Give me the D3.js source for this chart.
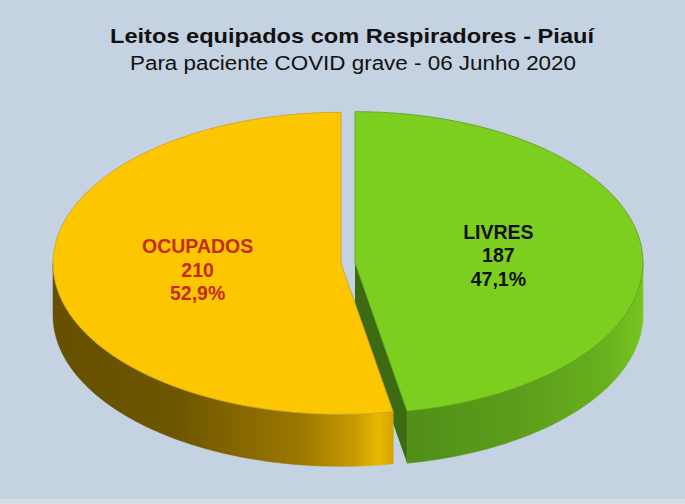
<!DOCTYPE html>
<html>
<head>
  <meta charset="utf-8">
  <title>Leitos equipados com Respiradores - Piauí</title>
  <style>
    html, body { margin: 0; padding: 0; background: #c5d2e2; }
    svg { display: block; }
  </style>
  <script src="https://d3js.org/d3.v7.min.js"></script>
</head>
<body>
  <div id="container"></div>
  <script>
    // data
    const categories = ["LIVRES", "OCUPADOS"];
    const values = [187, 210];
    const title = "Leitos equipados com Respiradores - Piauí";
    const subtitle = "Para paciente COVID grave - 06 Junho 2020";

    const width = 685, height = 504;
    const cx = 348, cy = 263, rx = 288, ry = 151, depth = 52, explode = 7;

    const topColor = ["#7ccf1e", "#fcc700"];
    const edgeColor = ["#5d9d1c", "#c9a030"];
    const faceColor = ["#3d6b12", "#7a6000"];
    const labelColor = ["#111111", "#c42a14"];

    const svg = d3.select("#container")
      .append("svg")
      .attr("width", width)
      .attr("height", height);

    svg.append("rect")
      .attr("width", width).attr("height", height)
      .attr("fill", "#c5d2e2");
    svg.append("rect")
      .attr("y", height - 5).attr("width", width).attr("height", 5)
      .attr("fill", "#d8dde3");

    // gradients for the sides
    const defs = svg.append("defs");
    const gY = defs.append("linearGradient").attr("id", "sideY")
      .attr("gradientUnits", "userSpaceOnUse")
      .attr("x1", cx - rx - explode).attr("x2", cx + 55).attr("y1", 0).attr("y2", 0);
    [["0", "#665000"], ["0.35", "#6e5600"], ["0.7", "#9a7700"], ["0.86", "#c69a00"],
     ["0.93", "#e8b800"], ["1", "#c89600"]]
      .forEach(s => gY.append("stop").attr("offset", s[0]).attr("stop-color", s[1]));
    const gG = defs.append("linearGradient").attr("id", "sideG")
      .attr("gradientUnits", "userSpaceOnUse")
      .attr("x1", cx + 40).attr("x2", cx + rx + explode).attr("y1", 0).attr("y2", 0);
    [["0", "#4f8c17"], ["0.5", "#5b9d1b"], ["0.85", "#68b01d"], ["1", "#78c520"]]
      .forEach(s => gG.append("stop").attr("offset", s[0]).attr("stop-color", s[1]));
    const sideFill = ["url(#sideG)", "url(#sideY)"];

    const pie = d3.pie().sort(null).startAngle(0).endAngle(2 * Math.PI);
    const arcs = pie(values);
    const total = d3.sum(values);

    // offset of each exploded slice
    function offset(d) {
      const m = (d.startAngle + d.endAngle) / 2;
      return [explode * Math.sin(m), -explode * Math.cos(m) * ry / rx];
    }
    function pt(d, a, r, dz) {
      const o = offset(d);
      return [cx + o[0] + rx * r * Math.sin(a), cy + o[1] - ry * r * Math.cos(a) + (dz || 0)];
    }
    function arcPts(d, a0, a1, dz) {
      const n = Math.max(2, Math.ceil((a1 - a0) / 0.02));
      return d3.range(n + 1).map(i => pt(d, a0 + (a1 - a0) * i / n, 1, dz));
    }
    const line = d3.line();

    const g = svg.append("g");

    // cut face of the green slice, seen at its lower edge
    arcs.forEach((d, i) => {
      const a = d.endAngle;
      if (Math.cos(a) < 0 && Math.sin(a) > 0 && i === 0) {
        const c0 = pt(d, a, 0), e0 = pt(d, a, 1);
        g.append("path")
          .attr("d", line([c0, e0, [e0[0], e0[1] + depth], [c0[0], c0[1] + depth]]) + "Z")
          .attr("fill", faceColor[i]);
      }
    });

    // outer sides (front half only)
    arcs.forEach((d, i) => {
      const a0 = Math.max(d.startAngle, Math.PI / 2);
      const a1 = Math.min(d.endAngle, 3 * Math.PI / 2);
      if (a1 <= a0) return;
      const up = arcPts(d, a0, a1, 0);
      const down = arcPts(d, a0, a1, depth).reverse();
      g.append("path")
        .attr("d", line(up.concat(down)) + "Z")
        .attr("fill", sideFill[i])
        .attr("stroke", sideFill[i])
        .attr("stroke-width", 0.6);
    });

    // top faces
    arcs.forEach((d, i) => {
      const pts = [pt(d, 0, 0)].concat(arcPts(d, d.startAngle, d.endAngle, 0));
      g.append("path")
        .attr("d", line(pts) + "Z")
        .attr("fill", topColor[i])
        .attr("stroke", edgeColor[i])
        .attr("stroke-width", 0.8);
    });

    // labels (slightly condensed like the original)
    const fmt = v => (v * 100).toFixed(1).replace(".", ",") + "%";
    const labelR = [0.5, 0.5];
    arcs.forEach((d, i) => {
      const m = (d.startAngle + d.endAngle) / 2;
      const p = pt(d, m, labelR[i]);
      const t = svg.append("g")
        .attr("transform", `translate(${p[0]},${p[1] - 17}) scale(0.93,1)`)
        .append("text")
        .attr("text-anchor", "middle")
        .attr("font-family", "'Liberation Sans', Arial, sans-serif")
        .attr("font-weight", "bold")
        .attr("font-size", 21)
        .attr("fill", labelColor[i]);
      [categories[i], String(values[i]), fmt(values[i] / total)].forEach((s, k) => {
        t.append("tspan").attr("x", 0).attr("dy", k === 0 ? 0 : 23.5).text(s);
      });
    });

    // title
    svg.append("text")
      .attr("x", 352).attr("y", 43)
      .attr("text-anchor", "middle")
      .attr("font-family", "'Liberation Sans', Arial, sans-serif")
      .attr("font-weight", "bold")
      .attr("font-size", 21)
      .attr("textLength", 484)
      .attr("lengthAdjust", "spacingAndGlyphs")
      .attr("fill", "#111")
      .text(title);
    svg.append("text")
      .attr("x", 353).attr("y", 70)
      .attr("text-anchor", "middle")
      .attr("font-family", "'Liberation Sans', Arial, sans-serif")
      .attr("font-size", 20)
      .attr("textLength", 446)
      .attr("lengthAdjust", "spacingAndGlyphs")
      .attr("fill", "#111")
      .text(subtitle);
  </script>
</body>
</html>
